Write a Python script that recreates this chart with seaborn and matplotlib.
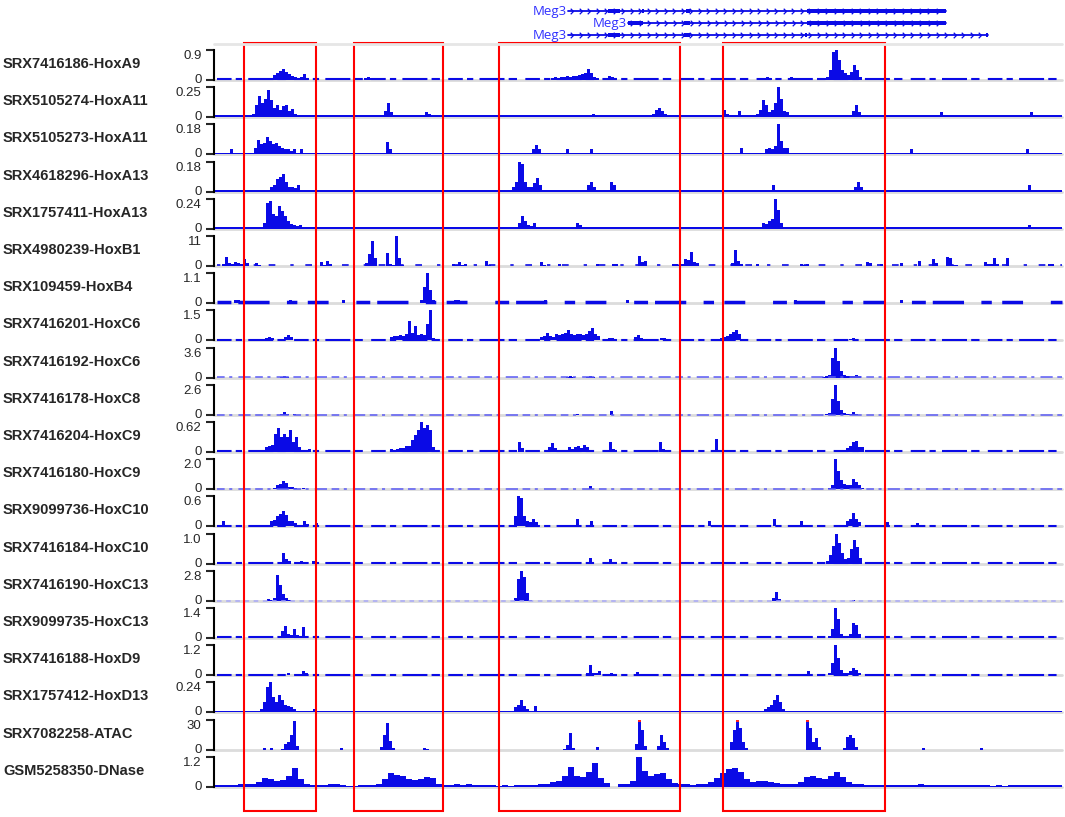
import numpy as np
import matplotlib
matplotlib.use("Agg")
import matplotlib.pyplot as plt
import seaborn as sns
from matplotlib.patches import Rectangle
from matplotlib.path import Path
from matplotlib.transforms import blended_transform_factory

# region shown: positions in kb from the left edge of the tracks
XMAX = 84.8
STEP = 0.3      # bin width (kb) of the signal
DNASE_STEP = 0.6

TRACK_NAMES = [
    "SRX7416186-HoxA9", "SRX5105274-HoxA11", "SRX5105273-HoxA11",
    "SRX4618296-HoxA13", "SRX1757411-HoxA13", "SRX4980239-HoxB1",
    "SRX109459-HoxB4", "SRX7416201-HoxC6", "SRX7416192-HoxC6",
    "SRX7416178-HoxC8", "SRX7416204-HoxC9", "SRX7416180-HoxC9",
    "SRX9099736-HoxC10", "SRX7416184-HoxC10", "SRX7416190-HoxC13",
    "SRX9099735-HoxC13", "SRX7416188-HoxD9", "SRX1757412-HoxD13",
    "SRX7082258-ATAC", "GSM5258350-DNase",
]
YMAX = [0.9, 0.25, 0.18, 0.18, 0.24, 11, 1.1, 1.5, 3.6, 2.6,
        0.62, 2.0, 0.6, 1.0, 2.8, 1.4, 1.2, 0.24, 30, 1.2]
YMAX_LABELS = ["0.9", "0.25", "0.18", "0.18", "0.24", "11", "1.1", "1.5", "3.6", "2.6",
               "0.62", "2.0", "0.6", "1.0", "2.8", "1.4", "1.2", "0.24", "30", "1.2"]
BASE_STYLE = ["dash", "solid", "solid", "solid", "solid", "sparse", "block", "dash", "light", "light",
              "dash", "light", "dash", "dash", "faint", "dash", "dash", "solid", "none", "none"]

# signal segments: (start kb, values every STEP kb)
hoxa9_186 = [(5.3, [0.04, 0.05, 0.15, 0.22, 0.28, 0.34, 0.25, 0.18, 0.12, 0.1, 0.07, 0.08, 0.17, 0.05]),
             (15.0, [0.06, 0.08, 0.05, 0.05, 0.04, 0.05]),
             (33.7, [0.05, 0.08, 0.07, 0.1, 0.09, 0.12, 0.1, 0.12, 0.12, 0.15, 0.18, 0.22, 0.34, 0.2, 0.1, 0.05]),
             (39.4, [0.12, 0.08, 0.04]), (52.6, [0.06, 0.04]), (55.2, [0.1, 0.05]), (57.6, [0.08]),
             (60.9, [0.05, 0.08, 0.3, 0.85, 0.9, 0.6, 0.3, 0.2, 0.15, 0.25, 0.45, 0.3, 0.08])]
hoxa11_274 = [(3.8, [0.03, 0.1, 0.18, 0.12, 0.15, 0.23, 0.14, 0.08, 0.1, 0.06, 0.09, 0.1, 0.05, 0.07, 0.03]),
              (17.0, [0.05, 0.12, 0.04]), (21.1, [0.04, 0.03]), (37.8, [0.03]),
              (43.8, [0.03, 0.06, 0.075, 0.05, 0.03]), (50.9, [0.06, 0.03]), (52.4, [0.05]),
              (54.2, [0.03, 0.06, 0.14, 0.1, 0.04, 0.06, 0.12, 0.25, 0.15, 0.05, 0.04]),
              (63.8, [0.05, 0.1, 0.04]), (72.6, [0.04]), (81.6, [0.04])]
hoxa11_273 = [(1.6, [0.03]),
              (4.0, [0.04, 0.086, 0.06, 0.07, 0.106, 0.08, 0.06, 0.07, 0.05, 0.04, 0.03, 0.03, 0.02, 0.03]),
              (8.6, [0.03]), (17.2, [0.076, 0.03]), (31.8, [0.03, 0.054, 0.03]), (35.2, [0.03]),
              (37.6, [0.03]), (52.6, [0.04]),
              (55.1, [0.03, 0.04, 0.03, 0.05, 0.18, 0.08, 0.04, 0.04]),
              (69.6, [0.03]), (81.2, [0.03])]
hoxa13_296 = [(5.6, [0.03, 0.04, 0.074, 0.09, 0.104, 0.06, 0.03, 0.03, 0.02, 0.04]),
              (29.8, [0.03, 0.06, 0.18, 0.166, 0.06, 0.03, 0.03, 0.05, 0.08, 0.04]),
              (37.3, [0.04, 0.06, 0.03]), (39.6, [0.06, 0.04]), (55.8, [0.04]),
              (64.0, [0.03, 0.06, 0.03]), (81.4, [0.04])]
hoxa13_411 = [(4.9, [0.05, 0.21, 0.22, 0.12, 0.1, 0.18, 0.14, 0.1, 0.06, 0.04, 0.03, 0.02, 0.03]),
              (30.4, [0.05, 0.1, 0.06, 0.03, 0.02, 0.05]), (36.2, [0.05, 0.03]),
              (54.8, [0.05, 0.04, 0.06, 0.08, 0.24, 0.15, 0.05]), (81.4, [0.03])]
hoxb1_239 = [(0.8, [0.8, 3.2, 1.2, 0.6, 1.5, 1.0, 0.8, 2.5, 1.2]), (4.1, [1.0, 0.4]),
             (10.6, [1.5, 0.4, 2.0, 0.6]), (15.1, [1.2, 4.4, 9.2, 3.0]),
             (17.2, [4.8, 0.6, 0.5, 11.0, 3.0, 0.5]), (23.8, [0.8, 0.5, 1.6, 0.5, 0.8]),
             (27.1, [1.8, 0.5]), (32.6, [1.5, 0.5]), (34.4, [0.8]), (38.2, [0.8]), (39.8, [0.8, 0.6]),
             (42.4, [3.5, 1.5, 2.0]), (45.8, [0.8, 0.6, 0.5, 0.6, 2.5, 2.2, 5.2, 1.5, 1.2]),
             (51.7, [1.2, 5.9, 2.0, 0.6]), (54.2, [0.8]), (58.6, [0.6, 0.4, 0.8]),
             (65.2, [1.6, 1.0]), (66.6, [0.8]), (68.6, [1.0]), (70.4, [1.8]), (71.8, [2.4, 1.2]),
             (73.2, [3.2, 3.0, 0.5, 0.5]), (77.0, [1.5, 0.6, 0.6, 2.8, 0.8]), (79.2, [2.8]),
             (83.4, [0.8, 0.6])]
hoxb4_459 = [(20.6, [0.1, 0.6, 1.1, 0.5, 0.1]), (2.0, [0.1, 0.1]), (7.5, [0.12]), (12.8, [0.1]),
             (24.0, [0.12, 0.1]), (33.0, [0.1]), (41.2, [0.12]), (58.0, [0.1]), (68.6, [0.1])]
hoxc6_201 = [(5.1, [0.12, 0.15, 0.1]), (7.0, [0.15, 0.25, 0.15]),
             (17.6, [0.15, 0.2, 0.2, 0.25, 0.2, 0.3, 0.98, 0.35, 0.72, 0.25, 0.3, 0.25, 0.8, 1.5, 0.1]),
             (32.6, [0.15, 0.2, 0.36, 0.2, 0.15, 0.3, 0.25, 0.3, 0.35, 0.52, 0.3, 0.25, 0.3, 0.3,
                     0.25, 0.3, 0.45, 0.6, 0.3, 0.2]),
             (39.4, [0.12, 0.1]), (42.0, [0.15, 0.25, 0.12]), (44.6, [0.12, 0.1]),
             (50.6, [0.1, 0.15, 0.2, 0.3, 0.4, 0.5, 0.3]), (63.5, [0.08, 0.12, 0.06])]
hoxc6_192 = [(6.6, [0.1, 0.15, 0.1]), (35.2, [0.1, 0.15, 0.1]), (37.2, [0.1, 0.2, 0.1]),
             (60.8, [0.1, 0.15, 0.3, 2.4, 3.6, 2.0, 0.8, 0.3, 0.2, 0.15, 0.2, 0.3, 0.15])]
hoxc8_178 = [(6.6, [0.1, 0.25, 0.1]), (7.9, [0.1]), (36.2, [0.1]), (39.6, [0.3]),
             (61.1, [0.1, 0.15, 1.4, 2.6, 1.2, 0.4, 0.15, 0.1, 0.1, 0.25, 0.1])]
hoxc9_204 = [(5.1, [0.1, 0.12, 0.15, 0.38, 0.5, 0.3, 0.38, 0.3, 0.45, 0.2, 0.32, 0.1, 0.04]),
             (9.4, [0.06]),
             (17.6, [0.06, 0.05, 0.06, 0.08, 0.08, 0.12, 0.12, 0.25, 0.35, 0.45, 0.62, 0.5, 0.55, 0.45, 0.1]),
             (30.4, [0.2, 0.08]), (33.4, [0.1, 0.18, 0.08]),
             (35.4, [0.1, 0.06, 0.1, 0.12, 0.08, 0.14, 0.1]), (39.5, [0.2, 0.06]),
             (44.5, [0.2, 0.06]), (50.1, [0.27]), (63.2, [0.08, 0.12, 0.2, 0.22, 0.1, 0.1])]
hoxc9_180 = [(5.9, [0.1, 0.25, 0.35, 0.57, 0.4, 0.15, 0.15, 0.1]), (8.8, [0.08]), (37.5, [0.2]),
             (61.4, [0.1, 0.3, 2.0, 1.2, 0.6, 0.35, 0.3, 0.3, 0.65, 0.45, 0.3, 0.1])]
hoxc10_736 = [(0.8, [0.1]), (5.6, [0.1, 0.12, 0.2, 0.25, 0.31, 0.22, 0.1, 0.1, 0.06]),
              (8.9, [0.1, 0.05]), (10.1, [0.06]),
              (30.0, [0.2, 0.6, 0.56, 0.2, 0.1, 0.08, 0.15, 0.08]), (36.2, [0.14]), (37.6, [0.1]),
              (49.4, [0.1]), (55.9, [0.14]), (58.6, [0.1]), (63.2, [0.1, 0.15, 0.26, 0.15, 0.08]),
              (67.2, [0.08]), (70.2, [0.06])]
hoxc10_184 = [(6.8, [0.35, 0.15, 0.1]), (8.6, [0.1]), (9.8, [0.08]), (37.5, [0.2]), (39.5, [0.15]),
              (61.2, [0.1, 0.3, 0.6, 1.0, 0.7, 0.35, 0.15, 0.2, 0.5, 0.8, 0.55, 0.2])]
hoxc13_190 = [(5.3, [0.15, 0.1, 0.3, 2.37, 1.5, 0.6, 0.25, 0.1]),
              (30.0, [0.3, 2.0, 2.8, 2.2, 0.7, 0.1]), (55.8, [0.3, 0.85, 0.2]), (63.8, [0.1])]
hoxc13_735 = [(6.4, [0.1, 0.35, 0.58, 0.2, 0.15, 0.42, 0.15, 0.1, 0.5, 0.1]),
              (36.2, [0.08]), (44.2, [0.1]),
              (61.4, [0.1, 0.4, 1.4, 0.9, 0.2, 0.1, 0.1, 0.2, 0.7, 0.6, 0.2])]
hoxd9_188 = [(7.3, [0.08]), (8.8, [0.15, 0.1]), (37.2, [0.1, 0.4, 0.1, 0.1, 0.15]), (39.6, [0.1]),
             (42.2, [0.12]), (59.3, [0.15]),
             (61.4, [0.1, 0.5, 1.2, 0.7, 0.2, 0.1, 0.1, 0.15, 0.27, 0.2, 0.1])]
hoxd13_412 = [(4.6, [0.03, 0.08, 0.2, 0.24, 0.12, 0.08, 0.14, 0.1, 0.06, 0.05, 0.04, 0.03]),
              (9.9, [0.03]), (30.0, [0.04, 0.06, 0.1, 0.05, 0.03]), (32.0, [0.05]),
              (55.0, [0.03, 0.04, 0.06, 0.1, 0.14, 0.08, 0.03])]
atac_258 = [(4.9, [2.0]), (5.6, [1.5]), (6.7, [1.0, 6.0, 8.0, 15.0, 29.0, 4.0]), (12.6, [1.5]),
            (16.6, [3.0, 15.0, 27.0, 9.0, 2.0]), (20.9, [1.5, 1.0]), (34.9, [1.0, 5.0, 17.0, 2.0]),
            (38.2, [3.0]), (42.1, [6.0, 35.0, 20.0, 4.0]), (44.3, [4.0, 15.0, 8.0, 2.0]),
            (51.6, [8.0, 20.0, 35.0, 22.0, 8.0, 2.0]), (59.2, [35.0, 22.0, 8.0, 12.0, 3.0]),
            (62.9, [2.0, 13.0, 15.0, 12.0, 3.0]), (70.8, [1.5]), (76.6, [1.5])]
dnase_350 = [(0.0, [0.06, 0.07, 0.08, 0.08, 0.1, 0.11, 0.12, 0.2, 0.35, 0.3, 0.25, 0.28, 0.42, 0.75,
                    0.3, 0.12, 0.09, 0.07, 0.06, 0.1, 0.1, 0.08, 0.05, 0.05, 0.06, 0.07, 0.08, 0.12,
                    0.3, 0.55, 0.48, 0.42, 0.32, 0.28, 0.3, 0.38, 0.35, 0.12, 0.08]),
             (23.4, [0.08, 0.1, 0.09, 0.1, 0.08, 0.06, 0.07, 0.06, 0.05, 0.06, 0.05, 0.06, 0.06, 0.07,
                     0.08, 0.1, 0.12, 0.18, 0.25, 0.45, 0.8, 0.42, 0.4, 0.6, 0.95, 0.35, 0.15]),
             (40.4, [0.1, 0.12, 0.25, 1.2, 0.65, 0.45, 0.52, 0.55, 0.3, 0.15, 0.1, 0.1, 0.09, 0.1,
                     0.12, 0.2, 0.35, 0.55, 0.7, 0.75, 0.6, 0.3, 0.2, 0.25, 0.22, 0.2, 0.15, 0.12,
                     0.1, 0.12, 0.2, 0.4, 0.42, 0.35, 0.3, 0.45, 0.6, 0.4, 0.2, 0.12, 0.1, 0.09, 0.08,
                     0.09, 0.08, 0.07, 0.08, 0.07, 0.09, 0.08, 0.1, 0.08, 0.07, 0.08, 0.07, 0.09, 0.08,
                     0.07, 0.06, 0.08, 0.07, 0.06, 0.05, 0.06, 0.05, 0.06, 0.07, 0.08, 0.06, 0.06, 0.07,
                     0.06, 0.07, 0.06])]

SEGMENTS = [hoxa9_186, hoxa11_274, hoxa11_273, hoxa13_296, hoxa13_411, hoxb1_239, hoxb4_459,
            hoxc6_201, hoxc6_192, hoxc8_178, hoxc9_204, hoxc9_180, hoxc10_736, hoxc10_184,
            hoxc13_190, hoxc13_735, hoxd9_188, hoxd13_412, atac_258, dnase_350]

# highlighted regions (kb)
BOX_START = [3.0, 14.0, 28.5, 50.9]
BOX_END = [10.2, 22.9, 46.6, 67.1]

# Meg3 transcripts (kb)
GENE_START = [35.4, 41.4, 35.4]
GENE_END = [73.2, 73.2, 77.4]
GENE_EXONS = [[(39.4, 40.6), (42.8, 43.0), (47.2, 47.6), (59.3, 73.2)],
              [(41.4, 42.9), (47.0, 47.6), (59.3, 73.2)],
              [(39.4, 40.6), (47.0, 47.6), (59.1, 59.3), (77.2, 77.4)]]

BLUE = "#0a0ae6"
W, H = 1065, 817

sns.set_style("white")
plt.rcParams["font.family"] = ["Liberation Sans", "DejaVu Sans"]

fig = plt.figure(figsize=(W / 100, H / 100), dpi=100)
left = 214 / W
width = (1062 - 214) / W

chev = Path([(-1, 1), (0, 0), (-1, -1)], [Path.MOVETO, Path.LINETO, Path.LINETO])

# gene model
gax = fig.add_axes([left, 1 - 41 / H, width, 36 / H])
gax.set_xlim(0, XMAX)
gax.set_ylim(3.5, 0.5)
gax.axis("off")
for k in range(3):
    row = k + 1
    gax.plot([GENE_START[k], GENE_END[k]], [row, row], color=BLUE, lw=1.3)
    xs = np.arange(GENE_START[k] + 0.5, GENE_END[k], 0.85)
    gax.plot(xs, [row] * len(xs), ls="none", marker=chev, ms=4, mew=0.9,
             mfc="none", mec=BLUE)
    for a, b in GENE_EXONS[k]:
        gax.add_patch(Rectangle((a, row - 0.2), b - a, 0.4, color=BLUE, lw=0))
    gax.text(GENE_START[k] - 0.1, row, "Meg3", ha="right", va="center",
             fontsize=9.5, color="#3030ff", family=["Open Sans", "DejaVu Sans"])

# light separator at top of tracks
fig.add_artist(plt.Line2D([left, left + width], [1 - 44 / H] * 2, color="#e6e6e6", lw=2))

axes = []
for i, name in enumerate(TRACK_NAMES):
    zero_px = 80 + 37.2 * i
    ax = fig.add_axes([left, 1 - zero_px / H, width, 30 / H])
    ymax = YMAX[i]
    ax.set_xlim(0, XMAX)
    ax.set_ylim(0, ymax)
    ax.axhline(0, color="#dcdcdc", lw=2, zorder=0, clip_on=False)

    style = BASE_STYLE[i]
    if style == "solid":
        ax.fill_between([0, XMAX], 0, 0.06 * ymax, color=BLUE, lw=0)
    elif style == "dash":
        ax.plot([0.3, XMAX], [0.02 * ymax] * 2, color=BLUE, lw=1.5, clip_on=False,
                dashes=(7, 2, 3, 3, 12, 2, 4, 4), solid_capstyle="butt")
    elif style == "block":
        ax.plot([0.3, XMAX], [0.03 * ymax] * 2, color=BLUE, lw=2.5, clip_on=False,
                dashes=(4, 2, 9, 5, 3, 3, 6, 8))
    elif style == "light":
        ax.plot([0.3, XMAX], [0.01 * ymax] * 2, color="#5a5af5", lw=1.1, clip_on=False,
                dashes=(5, 3, 2, 4, 8, 3))
    elif style == "faint":
        ax.plot([0.3, XMAX], [0.01 * ymax] * 2, color="#a8a8f8", lw=1.1, clip_on=False,
                dashes=(3, 3))
    elif style == "sparse":
        ax.plot([0.3, XMAX], [0.02 * ymax] * 2, color=BLUE, lw=1.2, clip_on=False,
                dashes=(2, 7, 4, 9))

    step = DNASE_STEP if i == len(TRACK_NAMES) - 1 else STEP
    for start, vals in SEGMENTS[i]:
        vals = np.array(vals, dtype=float)
        xs = start + step * np.arange(len(vals))
        ax.bar(xs, np.minimum(vals, ymax), width=step, align="edge", color=BLUE, lw=0)
        over = vals > ymax
        if over.any():
            ax.bar(xs[over], 0.07 * ymax, bottom=0.93 * ymax, width=step, align="edge",
                   color="#ff2020", lw=0)

    sns.despine(ax=ax, left=False, bottom=True)
    ax.spines["left"].set_linewidth(1.5)
    ax.spines["left"].set_color("black")
    ax.set_xticks([])
    ax.set_yticks([0, ymax])
    ax.set_yticklabels(["0", YMAX_LABELS[i]])
    ax.tick_params(axis="y", direction="out", length=6, width=1.5, pad=3,
                   labelsize=9.5, left=True)
    lbl = ax.get_yticklabels()
    lbl[0].set_va("center")
    lbl[1].set_va("top")
    fig.text(3 / W, 1 - (zero_px - 16) / H, name, ha="left", va="center",
             fontsize=10.5, fontweight="bold")
    axes.append(ax)

# red boxes spanning all tracks
tr = blended_transform_factory(axes[-1].transData, fig.transFigure)
for a, b in zip(BOX_START, BOX_END):
    fig.add_artist(Rectangle((a, 1 - 811 / H), b - a, (811 - 43) / H, transform=tr,
                             fill=False, edgecolor="#ff0000", lw=1.5))

fig.savefig("out.png", dpi=100)
